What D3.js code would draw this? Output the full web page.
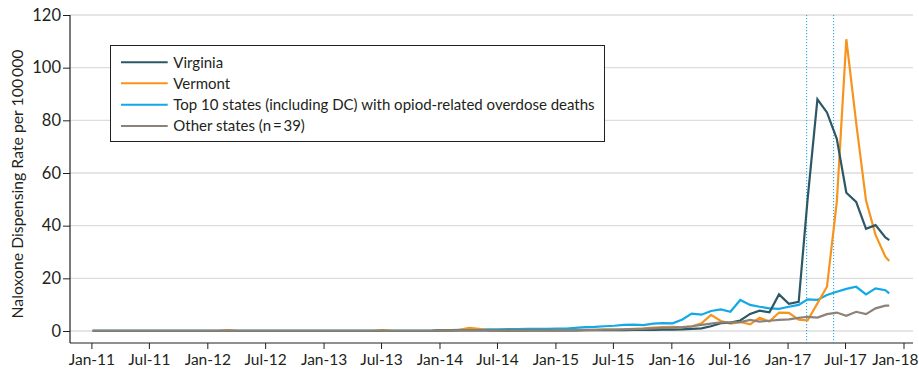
<!DOCTYPE html>
<html>
<head>
<meta charset="utf-8">
<script src="https://cdn.jsdelivr.net/npm/d3@7/dist/d3.min.js"></script>
<style>
  html, body { margin: 0; padding: 0; background: #fff; }
  svg { display: block; }
  text { font-family: "Lato", "DejaVu Sans", sans-serif; fill: #231f20; }
</style>
</head>
<body>
<svg id="chart" width="919" height="370"></svg>
<script>
// ---- Data ----
const seriesNames = [
  "Virginia",
  "Vermont",
  "Top 10 states (including DC) with opiod-related overdose deaths",
  "Other states (n\u2009=\u200939)"
];
const seriesColors = ["#2c5866", "#f7941d", "#12a9e6", "#8c8279"];

// monthly observations Jan 2011 – Nov 2017, plus a final mid-November reading
const lastPointDate = "2017-11-17";

const virginia = [
  0.1,0.1,0.1,0.1,0.1,0.1,0.1,0.1,0.1,0.1,0.1,0.1,
  0.1,0.1,0.1,0.1,0.1,0.1,0.1,0.1,0.1,0.1,0.1,0.1,
  0.1,0.1,0.1,0.1,0.1,0.1,0.1,0.1,0.1,0.1,0.1,0.1,
  0.2,0.2,0.2,0.2,0.2,0.2,0.2,0.2,0.2,0.2,0.2,0.2,
  0.2,0.2,0.2,0.3,0.3,0.3,0.3,0.3,0.4,0.4,0.4,0.5,
  0.5,0.6,0.8,1.0,1.8,3.0,3.2,4.0,6.5,7.7,7.1,13.9,
  10.3,11.1,50,88,83,73,52.5,49,38.8,40.2,35.5,34.5
];
const vermont = [
  0,0,0,0,0,0,0,0,0,0,0,0,
  0,0,0.3,0,0,0,0,0,0,0,0,0,
  0,0,0,0,0,0,0.3,0,0,0,0,0,
  0,0,0.4,1.2,0.8,0.2,0.1,0,0.1,0.2,0.2,0.2,
  0.2,0.3,0.3,0.3,0.4,0.5,0.5,0.6,0.8,1.0,1.3,1.5,
  1.6,1.4,1.7,2.9,6.1,3.8,2.8,3.4,2.5,5.0,3.6,7.0,
  6.9,4.3,4.0,10.5,16.8,49,110.8,79,49.5,36.5,28.2,26.6
];
const top10 = [
  0.1,0.1,0.1,0.1,0.1,0.1,0.1,0.1,0.1,0.1,0.1,0.1,
  0.1,0.1,0.1,0.1,0.1,0.1,0.1,0.1,0.1,0.1,0.1,0.1,
  0.1,0.1,0.1,0.1,0.1,0.1,0.1,0.1,0.1,0.1,0.1,0.1,
  0.3,0.3,0.4,0.5,0.5,0.6,0.6,0.7,0.7,0.8,0.8,0.8,
  0.9,0.9,1.2,1.5,1.6,1.8,2.0,2.3,2.4,2.2,2.8,3.0,
  2.9,4.4,6.6,6.2,7.6,8.2,7.3,11.8,9.9,9.2,8.6,8.4,
  9.2,9.9,12,11.8,13.7,14.9,16,16.8,13.9,16.2,15.5,14.3
];
const otherStates = [
  0.1,0.1,0.1,0.1,0.1,0.1,0.1,0.1,0.1,0.1,0.1,0.1,
  0.1,0.1,0.1,0.1,0.1,0.1,0.1,0.1,0.1,0.1,0.1,0.1,
  0.1,0.1,0.1,0.1,0.1,0.1,0.1,0.1,0.1,0.1,0.1,0.1,
  0.2,0.2,0.2,0.2,0.2,0.2,0.2,0.2,0.2,0.2,0.2,0.2,
  0.3,0.3,0.3,0.4,0.4,0.5,0.5,0.6,0.7,0.8,1.0,1.2,
  1.3,1.5,1.8,2.3,2.8,3.3,3.3,3.4,4.2,3.6,3.9,4.2,
  4.4,5.0,5.4,5.1,6.4,7.0,5.8,7.3,6.4,8.6,9.6,9.6
];
const seriesValues = [virginia, vermont, top10, otherStates];
const drawOrder = [2, 1, 0, 3];

const yTicks = [0, 20, 40, 60, 80, 100, 120];
const xTickLabels = ["Jan-11","Jul-11","Jan-12","Jul-12","Jan-13","Jul-13","Jan-14","Jul-14",
                     "Jan-15","Jul-15","Jan-16","Jul-16","Jan-17","Jul-17","Jan-18"];
const markerDates = ["2017-03-02", "2017-05-26"];
const yLabel = "Naloxone Dispensing Rate per 100\u2009000";

// ---- Layout ----
const parse = d3.utcParse("%Y-%m-%d");
const svg = d3.select("#chart");
const plotLeft = 70, plotRight = 913, plotTop = 15, plotBottom = 343;

const x = d3.scaleUtc()
  .domain([parse("2011-01-01"), parse("2018-01-01")])
  .range([91.4, 903.5]);
const y = d3.scaleLinear().domain([0, 120]).range([331, 15]);

const nMonths = virginia.length - 1;
const dates = d3.utcMonth.range(parse("2011-01-01"), d3.utcMonth.offset(parse("2011-01-01"), nMonths))
  .map(d => d3.utcDay.offset(d, 4));
dates.push(parse(lastPointDate));

const xTickDates = d3.utcMonth.every(6).range(parse("2011-01-01"), parse("2018-01-02"));

// gridlines
svg.append("g").selectAll("line").data(yTicks).join("line")
  .attr("x1", plotLeft).attr("x2", plotRight)
  .attr("y1", d => y(d)).attr("y2", d => y(d))
  .attr("stroke", "#dddddd").attr("stroke-width", 1.4);

// y axis
const yAxis = svg.append("g").attr("transform", `translate(${plotLeft},0)`)
  .call(d3.axisLeft(y).tickValues(yTicks).tickSize(7).tickPadding(2).tickSizeOuter(0));
yAxis.select(".domain").remove();
yAxis.selectAll("line").attr("stroke", "#231f20");
yAxis.selectAll("text").attr("font-size", 16.5).attr("font-family", "Lato, sans-serif").attr("fill", "#231f20");

// x axis
const xAxis = svg.append("g").attr("transform", `translate(0,${plotBottom})`)
  .call(d3.axisBottom(x).tickValues(xTickDates)
    .tickFormat((d, i) => xTickLabels[i]).tickSize(6).tickPadding(5).tickSizeOuter(0));
xAxis.select(".domain").remove();
xAxis.selectAll("line").attr("stroke", "#231f20");
xAxis.selectAll("text").attr("font-size", 15.5).attr("font-family", "Lato, sans-serif").attr("fill", "#231f20");
// keep the last label just inside the right edge
xAxis.selectAll(".tick").filter((d, i, n) => i === n.length - 1).select("text")
  .attr("text-anchor", "end").attr("x", 14.5);

// axis lines
svg.append("line").attr("x1", plotLeft).attr("x2", plotLeft).attr("y1", plotTop).attr("y2", plotBottom)
  .attr("stroke", "#231f20").attr("stroke-width", 1.2);
svg.append("line").attr("x1", plotLeft).attr("x2", plotRight).attr("y1", plotBottom).attr("y2", plotBottom)
  .attr("stroke", "#231f20").attr("stroke-width", 1.2);

// marker dotted lines
svg.append("g").selectAll("line").data(markerDates).join("line")
  .attr("x1", d => x(parse(d))).attr("x2", d => x(parse(d)))
  .attr("y1", plotTop).attr("y2", plotBottom)
  .attr("stroke", "#1aa3e0").attr("stroke-width", 1)
  .attr("stroke-dasharray", "1.2,1.8");

// lines
const line = d3.line().x((d, i) => x(dates[i])).y(d => y(d));
svg.append("g").selectAll("path").data(drawOrder).join("path")
  .attr("d", k => line(seriesValues[k]))
  .attr("fill", "none")
  .attr("stroke", k => seriesColors[k])
  .attr("stroke-width", 2.2)
  .attr("stroke-linejoin", "miter");

// y label
svg.append("text")
  .attr("transform", `translate(22.5,${(43 + 325) / 2}) rotate(-90)`)
  .attr("text-anchor", "middle")
  .attr("font-size", 15.8)
  .text(yLabel);

// legend
const lg = svg.append("g");
lg.append("rect").attr("x", 110.5).attr("y", 45.5).attr("width", 494).attr("height", 96)
  .attr("fill", "#fff").attr("stroke", "#231f20").attr("stroke-width", 1);
const rowY = [62.3, 83.3, 104.7, 126];
const rows = lg.selectAll("g.row").data(seriesNames).join("g").attr("class", "row")
  .attr("transform", (d, i) => `translate(0,${rowY[i]})`);
rows.append("line").attr("x1", 121).attr("x2", 167.7).attr("y1", 0).attr("y2", 0)
  .attr("stroke", (d, i) => seriesColors[i]).attr("stroke-width", 2);
rows.append("text").attr("x", 173.3).attr("dy", "0.35em").attr("font-size", 15).text(d => d);
</script>
</body>
</html>
